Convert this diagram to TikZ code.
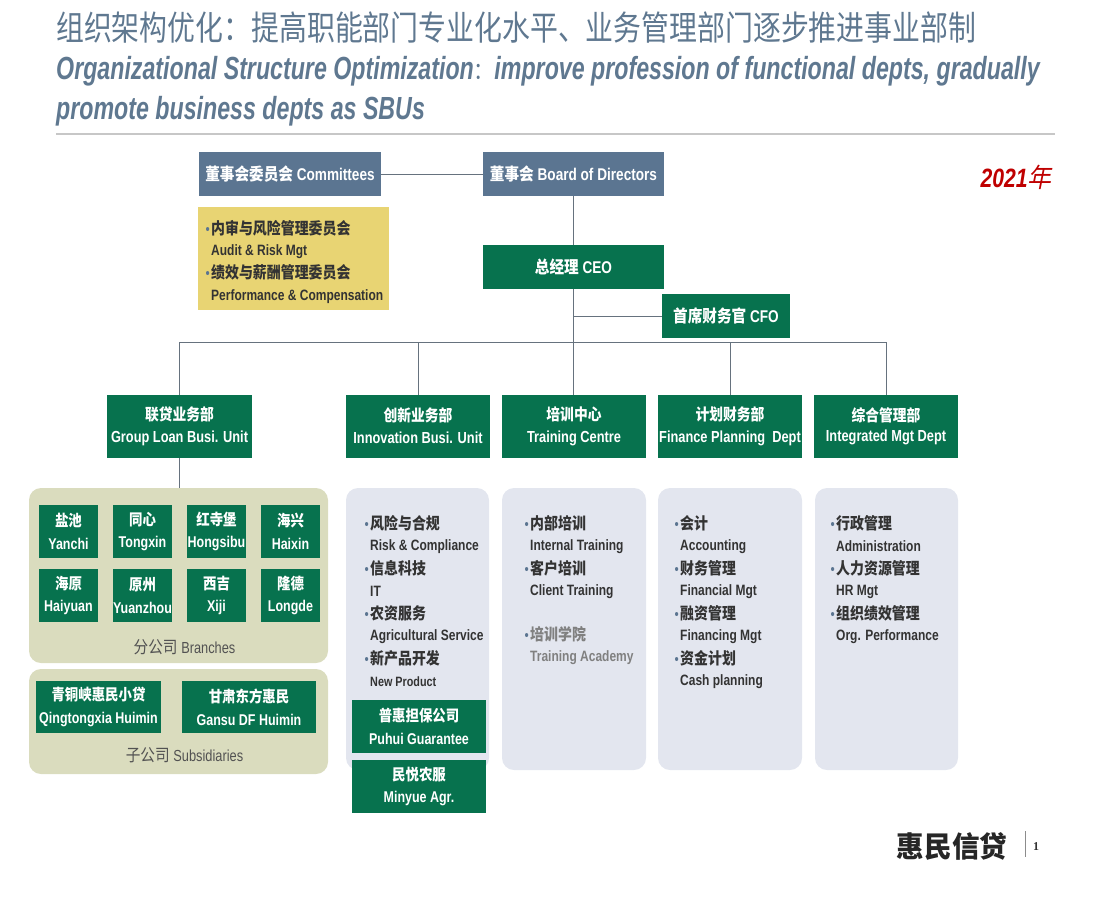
\documentclass[tikz,border=0pt]{standalone}
\usepackage{fontspec}
\setmainfont[FakeStretch=0.8]{Liberation Sans}
\newfontfamily\titlefont[FakeStretch=0.725]{Liberation Sans}
\newfontfamily\cjk[FakeStretch=0.86]{Noto Sans CJK SC}
\newfontfamily\cjktitle[FakeStretch=0.82]{Noto Sans CJK SC}
\newfontfamily\cjkslant[FakeStretch=0.9,FakeSlant=0.2]{Noto Sans CJK SC}
\newfontfamily\cjkblack[FakeStretch=0.95]{Noto Sans CJK SC Black}
\newfontfamily\serifnum{Liberation Serif}
\newcommand{\zh}[1]{{\cjk #1}}
\newcommand{\fs}[1]{\fontsize{#1}{#1}\selectfont}
\newcommand{\bul}{\llap{\textcolor{slate}{\fs{15}\mdseries•}\hspace{1.5pt}}}
\definecolor{slate}{HTML}{5B7591}
\definecolor{titlec}{HTML}{5F7890}
\definecolor{dgreen}{HTML}{07724E}
\definecolor{ybox}{HTML}{E8D473}
\definecolor{olive}{HTML}{DADCBE}
\definecolor{pale}{HTML}{E3E6EF}
\definecolor{conn}{HTML}{66727E}
\definecolor{inkc}{HTML}{333333}
\tikzset{
  lbl/.style={inner sep=0pt,outer sep=0pt,align=center},
  bluebox/.style={lbl,fill=slate,text=white,font=\fs{17}\bfseries},
  greenbox/.style={lbl,fill=dgreen,text=white,font=\fs{17}\bfseries},
  leafbox/.style={lbl,fill=dgreen,text=white,font=\fs{15.6}\bfseries,minimum width=59pt,minimum height=53pt},
  unitbox/.style={greenbox,font=\fs{16}\bfseries,minimum width=144.5pt,minimum height=63pt},
  panel/.style={lbl,rounded corners=12pt,minimum width=#1},
  itemzh/.style={inner sep=0pt,anchor=west,text=inkc,font=\fs{16.2}\bfseries},
  itemen/.style={inner sep=0pt,anchor=west,yshift=-1.5pt,text=inkc,font=\fs{15}\bfseries},
  conline/.style={conn,line width=0.9pt},
  titleen/.style={inner sep=0pt,anchor=west,text=titlec,font=\fs{32}\titlefont\bfseries\itshape},
}
\begin{document}
\begin{tikzpicture}[x=1pt,y=-1pt]
\useasboundingbox (0,0) rectangle (1111,900);
% title
\node[inner sep=0pt,anchor=west,text=titlec,font=\fs{34}\cjktitle] (title) at (56,28) {组织架构优化：提高职能部门专业化水平、业务管理部门逐步推进事业部制};
\node[titleen] (sub1) at (56,71) {Organizational Structure Optimization{\fs{24}\mdseries\cjk ：}improve profession of functional depts, gradually};
\node[titleen] (sub2) at (56,111) {promote business depts as SBUs};
\coordinate (ruleL) at (56,134);
\coordinate (ruleR) at (1055,134);
\draw[line width=2pt,draw=black!22] (ruleL) -- (ruleR);
\node[inner sep=0pt,text=red!75!black,font=\fs{26.5}\bfseries\itshape] (year) at (1016,177) {2021{\mdseries\cjkslant 年}};
% top
\node[bluebox,minimum width=182pt,minimum height=44pt] (comm) at (290,174) {\zh{董事会委员会} Committees};
\node[bluebox,minimum width=181pt,minimum height=44pt] (board) at (573.5,174) {\zh{董事会} Board of Directors};
\node[greenbox,minimum width=181pt,minimum height=44pt] (ceo) at (573.5,267) {\zh{总经理} CEO};
\node[greenbox,minimum width=128pt,minimum height=44pt] (cfo) at (726,316) {\zh{首席财务官} CFO};
% yellow
\node[lbl,fill=ybox,minimum width=191pt,minimum height=103pt] (ypanel) at (293.5,258.5) {};
\node[itemzh] (y1) at (211,228) {\bul\zh{内审与风险管理委员会}};
\node[itemen] (y2) at (211,250) {Audit \& Risk Mgt};
\node[itemzh] (y3) at (211,272) {\bul\zh{绩效与薪酬管理委员会}};
\node[itemen] (y4) at (211,295) {Performance \& Compensation};
% units
\node[unitbox] (u1) at (179.5,426) {\zh{联贷业务部}\\[6pt]Group Loan Busi. Unit};
\node[unitbox] (u2) at (418,426) {\zh{创新业务部}\\[6pt]Innovation Busi. Unit};
\node[unitbox] (u3) at (574,426) {\zh{培训中心}\\[6pt]Training Centre};
\node[unitbox] (u4) at (730,426) {\zh{计划财务部}\\[6pt]Finance Planning\ \ Dept};
\node[unitbox] (u5) at (886,426) {\zh{综合管理部}\\[4pt]Integrated Mgt Dept};
% connectors
\coordinate (busA) at (179.5,342);
\coordinate (busB) at (418,342);
\coordinate (busC) at (573.5,342);
\coordinate (busD) at (730,342);
\coordinate (busE) at (886,342);
\coordinate (cfoJ) at (573.5,316);
\draw[conline] (comm) -- (board);
\draw[conline] (board) -- (ceo);
\draw[conline] (ceo) -- (busC);
\draw[conline] (cfoJ) -- (cfo);
\draw[conline] (u1.north) -- (busA) -- (busE) -- (u5.north);
\draw[conline] (busB) -- (u2.north);
\draw[conline] (busC) -- (busC |- u3.north);
\draw[conline] (busD) -- (u4.north);
% panels
\node[panel=299pt,fill=olive,minimum height=175pt] (branches) at (178.5,575.5) {};
\node[panel=299pt,fill=olive,minimum height=105pt] (subs) at (178.5,721.5) {};
\node[panel=143pt,fill=pale,minimum height=282pt] (p2) at (417.5,629) {};
\node[panel=144pt,fill=pale,minimum height=282pt] (p3) at (574,629) {};
\node[panel=144pt,fill=pale,minimum height=282pt] (p4) at (730,629) {};
\node[panel=143pt,fill=pale,minimum height=282pt] (p5) at (886.5,629) {};
\draw[conline] (u1.south) -- (u1.south |- branches.north);
% branches
\node[leafbox] (b1) at (68.5,531.5) {\zh{盐池}\\[7pt]Yanchi};
\node[leafbox] (b2) at (142.5,531.5) {\zh{同心}\\[7pt]Tongxin};
\node[leafbox] (b3) at (216.5,531.5) {\zh{红寺堡}\\[7pt]Hongsibu};
\node[leafbox] (b4) at (290.5,531.5) {\zh{海兴}\\[7pt]Haixin};
\node[leafbox] (b5) at (68.5,595.5) {\zh{海原}\\[7pt]Haiyuan};
\node[leafbox] (b6) at (142.5,595.5) {\zh{原州}\\[7pt]Yuanzhou};
\node[leafbox] (b7) at (216.5,595.5) {\zh{西吉}\\[7pt]Xiji};
\node[leafbox] (b8) at (290.5,595.5) {\zh{隆德}\\[7pt]Longde};
\node[inner sep=0pt,text=inkc!85,font=\fs{17}] (blabel) at (184.5,647) {\zh{分公司} \fs{16}Branches};
\node[leafbox,minimum width=125pt,minimum height=52pt] (s1) at (98.5,707) {\zh{青铜峡惠民小贷}\\[7pt]Qingtongxia Huimin};
\node[leafbox,minimum width=134pt,minimum height=52pt] (s2) at (249,707) {\zh{甘肃东方惠民}\\[7pt]Gansu DF Huimin};
\node[inner sep=0pt,text=inkc!85,font=\fs{17}] (slabel) at (184.5,755) {\zh{子公司} \fs{16}Subsidiaries};
% p2
\node[itemzh] (a1) at (370,523) {\bul\zh{风险与合规}};
\node[itemen] (a2) at (370,545) {Risk \& Compliance};
\node[itemzh] (a3) at (370,568) {\bul\zh{信息科技}};
\node[itemen] (a4) at (370,590) {IT};
\node[itemzh] (a5) at (370,613) {\bul\zh{农资服务}};
\node[itemen] (a6) at (370,635) {Agricultural Service};
\node[itemzh] (a7) at (370,658) {\bul\zh{新产品开发}};
\node[itemen,font=\fs{13.5}\bfseries] (a8) at (370,680) {New Product};
\node[leafbox,minimum width=134pt,minimum height=53pt] (g1) at (419,726.5) {\zh{普惠担保公司}\\[7pt]Puhui Guarantee};
\node[leafbox,minimum width=134pt,minimum height=53pt] (g2) at (419,786.5) {\zh{民悦农服}\\[7pt]Minyue Agr.};
% p3
\node[itemzh] (c1) at (530,523) {\bul\zh{内部培训}};
\node[itemen] (c2) at (530,545) {Internal Training};
\node[itemzh] (c3) at (530,568) {\bul\zh{客户培训}};
\node[itemen] (c4) at (530,590) {Client Training};
\node[itemzh,text=black!50] (c5) at (530,634) {\bul\zh{培训学院}};
\node[itemen,text=black!50] (c6) at (530,656) {Training Academy};
% p4
\node[itemzh] (d1) at (680,523) {\bul\zh{会计}};
\node[itemen] (d2) at (680,545) {Accounting};
\node[itemzh] (d3) at (680,568) {\bul\zh{财务管理}};
\node[itemen] (d4) at (680,590) {Financial Mgt};
\node[itemzh] (d5) at (680,613) {\bul\zh{融资管理}};
\node[itemen] (d6) at (680,635) {Financing Mgt};
\node[itemzh] (d7) at (680,658) {\bul\zh{资金计划}};
\node[itemen] (d8) at (680,680) {Cash planning};
% p5
\node[itemzh] (e1) at (836,523) {\bul\zh{行政管理}};
\node[itemen] (e2) at (836,545) {Administration};
\node[itemzh] (e3) at (836,568) {\bul\zh{人力资源管理}};
\node[itemen] (e4) at (836,590) {HR Mgt};
\node[itemzh] (e5) at (836,613) {\bul\zh{组织绩效管理}};
\node[itemen] (e6) at (836,635) {Org. Performance};
% logo
\node[inner sep=0pt,text=black!85,font=\fs{29}\cjkblack] (logo) at (952,846) {惠民信贷};
\coordinate (barT) at (1025,831);
\coordinate (barB) at (1025,857);
\draw[black!45,line width=0.9pt] (barT) -- (barB);
\node[inner sep=0pt,text=inkc,font=\fs{12}\serifnum\bfseries] (pg) at (1036,847) {1};
\end{tikzpicture}
\end{document}
